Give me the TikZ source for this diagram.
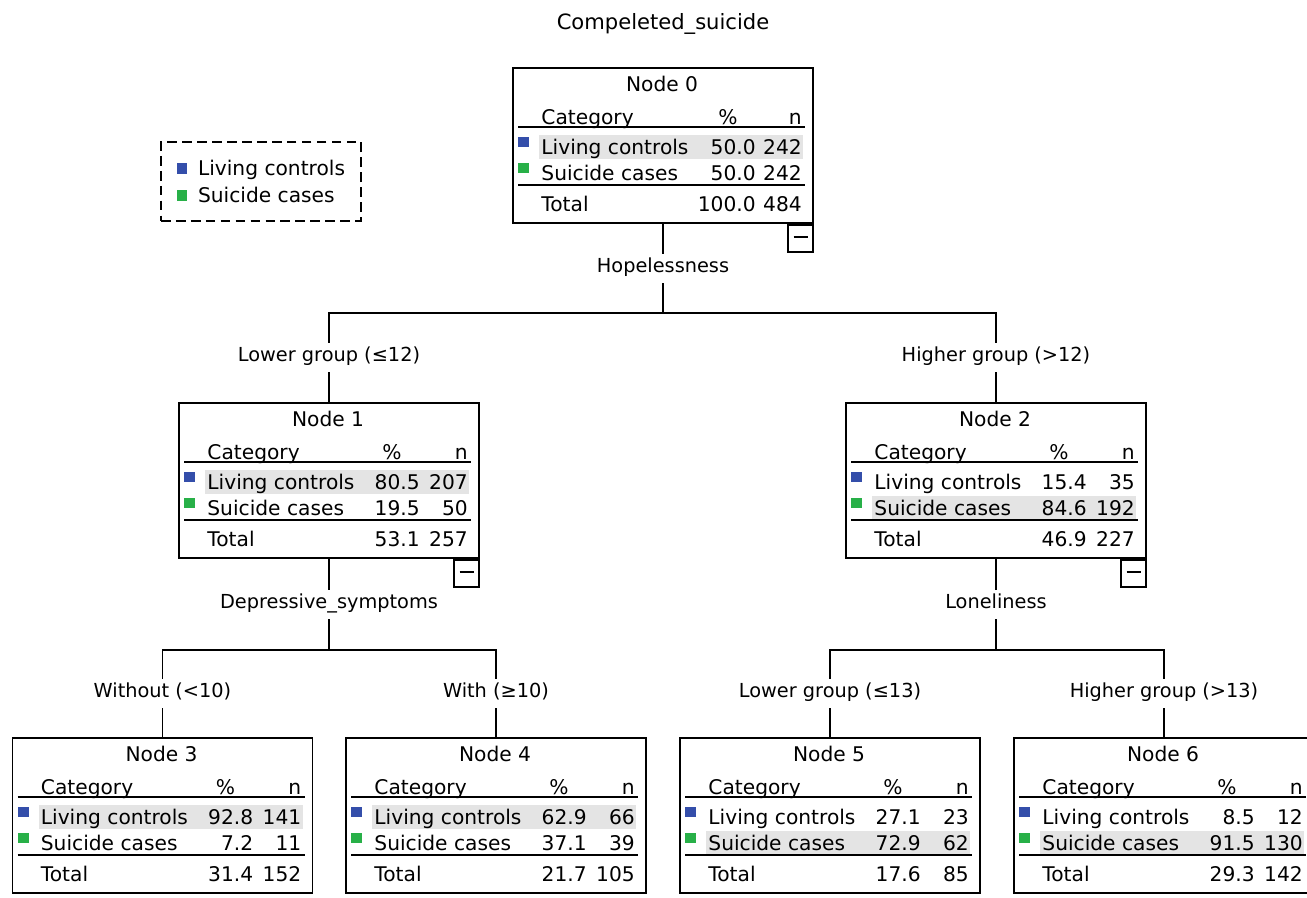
\documentclass[tikz,border=0pt]{standalone}
\usepackage{fontspec}
\setmainfont{DejaVu Sans}
\usetikzlibrary{positioning}

\definecolor{ctrlblue}{RGB}{52,78,170}
\definecolor{casegreen}{RGB}{40,176,72}
\definecolor{rowgray}{RGB}{228,228,228}

\begin{document}
\begin{tikzpicture}[x=0.02cm, y=-0.02cm,
  font=\fontsize{11}{13}\selectfont,
  treebox/.style={rectangle, draw=black, line width=1.1pt, minimum width=6cm, minimum height=3.1cm, inner sep=0pt},
  minusbox/.style={rectangle, draw=black, line width=1pt, minimum width=0.5cm, minimum height=0.55cm, inner sep=0pt},
  legendbox/.style={rectangle, draw=black, line width=1pt, dash pattern=on 5.5pt off 3pt, minimum width=4cm, minimum height=1.58cm, align=left, font=\fontsize{11.5}{15.3}\selectfont},
  lbl/.style={fill=white, inner sep=3pt, text height=8pt, text depth=3pt},
  cell/.style={inner sep=0pt, text height=8.4pt, text depth=0pt, font=\fontsize{11.5}{13}\selectfont},
  tline/.style={line width=1.1pt},
  conn/.style={line width=1.1pt}]

  \useasboundingbox (0,0) rectangle (1307,897);

  % Title and legend
  \node (title) [cell, font=\fontsize{12}{14}\selectfont] at (663,22) {Compeleted\_suicide};
  \node (legend) [legendbox] at (261,181.5) {\textcolor{ctrlblue}{\rule[1pt]{6pt}{6pt}}\hspace{6pt}Living controls\\
    \textcolor{casegreen}{\rule[1pt]{6pt}{6pt}}\hspace{6pt}Suicide cases};

  % Nodes
  \foreach \nm/\cx/\cy/\pr/\pa/\na/\pb/\nb/\pt/\nt/\hl in {
      0/663/145.5/244/50.0/242/50.0/242/100.0/484/1,
      1/329/480.5/242/80.5/207/19.5/50/53.1/257/1,
      2/996/480.5/242/15.4/35/84.6/192/46.9/227/2,
      3/162.5/815.5/242/92.8/141/7.2/11/31.4/152/1,
      4/496/815.5/242/62.9/66/37.1/39/21.7/105/1,
      5/830/815.5/242/27.1/23/72.9/62/17.6/85/2,
      6/1164/815.5/242/8.5/12/91.5/130/29.3/142/2}{
    \node (n\nm) [treebox] at (\cx,\cy) {};
    \begin{scope}[shift={(n\nm.north west)}]
      \fill[rowgray] (27,{42+26*\hl}) rectangle (291,{66+26*\hl});
      \node [cell] at (150,17) {Node \nm};
      \node [cell, anchor=west] at (29,50.5) {Category};
      \node [cell] at ({\pr-28},50.5) {\%};
      \node [cell, anchor=east] at (290,50.5) {n};
      \draw[tline] (6,60) -- (293,60);
      \fill[ctrlblue] (6,70) rectangle (17,80);
      \node [cell, anchor=west] at (29,80.5) {Living controls};
      \node [cell, anchor=east] at (\pr,80.5) {\pa};
      \node [cell, anchor=east] at (290,80.5) {\na};
      \fill[casegreen] (6,96) rectangle (17,106);
      \node [cell, anchor=west] at (29,106.5) {Suicide cases};
      \node [cell, anchor=east] at (\pr,106.5) {\pb};
      \node [cell, anchor=east] at (290,106.5) {\nb};
      \draw[tline] (6,118) -- (293,118);
      \node [cell, anchor=west] at (29,137) {Total};
      \node [cell, anchor=east] at (\pr,137) {\pt};
      \node [cell, anchor=east] at (290,137) {\nt};
    \end{scope}
  }

  % Collapse buttons
  \foreach \nm in {0,1,2}{
    \node (m\nm) [minusbox, anchor=north east] at (n\nm.south east) {};
    \draw[line width=1pt] ([xshift=-0.14cm, yshift=0.03cm]m\nm.center) -- ([xshift=0.14cm, yshift=0.03cm]m\nm.center);
  }

  % Split points
  \coordinate (s0) at (663,313);
  \coordinate (s1) at (329,650);
  \coordinate (s2) at (996,650);

  % Arrows
  \draw [conn] (n0.south) -- node[lbl] {Hopelessness} (s0);
  \draw [conn] (s0) -| node[lbl, pos=0.75] {Lower group (≤12)} (n1.north);
  \draw [conn] (s0) -| node[lbl, pos=0.75] {Higher group (>12)} (n2.north);

  \draw [conn] (n1.south) -- node[lbl] {Depressive\_symptoms} (s1);
  \draw [conn] (s1) -| node[lbl, pos=0.75] {Without (<10)} (n3.north);
  \draw [conn] (s1) -| node[lbl, pos=0.75] {With (≥10)} (n4.north);

  \draw [conn] (n2.south) -- node[lbl] {Loneliness} (s2);
  \draw [conn] (s2) -| node[lbl, pos=0.75] {Lower group (≤13)} (n5.north);
  \draw [conn] (s2) -| node[lbl, pos=0.75] {Higher group (>13)} (n6.north);

\end{tikzpicture}
\end{document}
